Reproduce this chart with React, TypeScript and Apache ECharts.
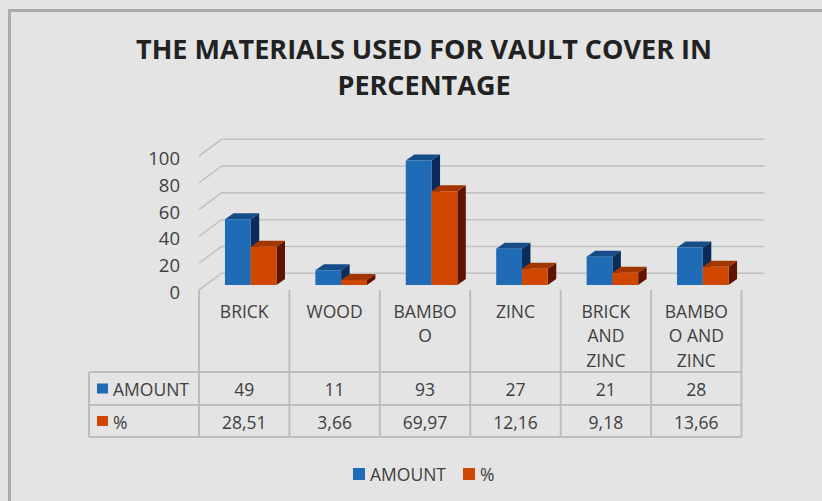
import React, { useEffect, useRef } from "react";
import * as echarts from "echarts";

const categories = ["BRICK", "WOOD", "BAMBOO", "ZINC", "BRICK AND ZINC", "BAMBOO AND ZINC"];
const categoryLabels = ["BRICK", "WOOD", "BAMBO\nO", "ZINC", "BRICK\nAND\nZINC", "BAMBO\nO AND\nZINC"];
const amountValues = [49, 11, 93, 27, 21, 28];
const percentValues = [28.51, 3.66, 69.97, 12.16, 9.18, 13.66];
const percentLabels = ["28,51", "3,66", "69,97", "12,16", "9,18", "13,66"];
const yTicks = [0, 20, 40, 60, 80, 100];
const seriesNames = ["AMOUNT", "%"];
const titleText = "THE MATERIALS USED FOR VAULT COVER IN\nPERCENTAGE";

const FONT = '"Open Sans", "Noto Sans", sans-serif';
const TEXT_COLOR = "#404040";
const GRID_COLOR = "#c2c2c2";
const TABLE_LINE = "#bdbdbd";

const BLUE = { front: "#1f6bb6", top: "#164c88", side: "#0b2c58" };
const ORANGE = { front: "#d04800", top: "#a33500", side: "#601400" };

const makeBarRender = (slot: number, colors: { front: string; top: string; side: string }) =>
  (params: any, api: any) => {
    const idx = api.value(0);
    const v = api.value(1);
    const base = api.coord([idx, 0]);
    const top = api.coord([idx, v]);
    const band = api.size([1, 0])[0];
    const w = band * 0.285;
    const x0 = base[0] - band * 0.213 + slot * w;
    const dx = 8.5;
    const dy = -6;
    const y0 = base[1];
    const y1 = top[1];
    return {
      type: "group",
      children: [
        {
          type: "polygon",
          shape: { points: [[x0 + w, y1], [x0 + w + dx, y1 + dy], [x0 + w + dx, y0 + dy], [x0 + w, y0]] },
          style: { fill: colors.side },
        },
        {
          type: "polygon",
          shape: { points: [[x0, y1], [x0 + dx, y1 + dy], [x0 + w + dx, y1 + dy], [x0 + w, y1]] },
          style: { fill: colors.top },
        },
        {
          type: "rect",
          shape: { x: x0, y: y1, width: w, height: y0 - y1 },
          style: { fill: colors.front },
        },
      ],
    };
  };

const gridRender = (params: any, api: any) => {
  const cs = params.coordSys;
  const y = api.coord([0, api.value(1)])[1];
  return {
    type: "polyline",
    shape: {
      points: [
        [cs.x, y + 5],
        [cs.x + 22.5, y - 11.7],
        [cs.x + cs.width + 23, y - 11.7],
      ],
    },
    style: { stroke: GRID_COLOR, lineWidth: 1.6, fill: "none" },
  };
};

const txt = (text: string, x: number, y: number, align: string = "center", size = 17.5) => ({
  type: "text",
  style: {
    text,
    x,
    y,
    align,
    verticalAlign: "middle",
    fill: TEXT_COLOR,
    fontSize: size,
    fontFamily: FONT,
  },
});

const ln = (x1: number, y1: number, x2: number, y2: number) => ({
  type: "line",
  shape: { x1, y1, x2, y2 },
  style: { stroke: TABLE_LINE, lineWidth: 2 },
});

const tableRender = (params: any, api: any) => {
  const i = api.value(0);
  const c = api.coord([i, 0]);
  const band = api.size([1, 0])[0];
  const left = c[0] - band / 2;
  const right = c[0] + band / 2;
  const yb = c[1];
  const r1 = yb + 87;
  const r2 = yb + 120;
  const r3 = yb + 152;
  const children: any[] = [
    ln(left, yb + 5, left, r3),
    ln(left, r1, right, r1),
    ln(left, r2, right, r2),
    ln(left, r3, right, r3),
    txt(String(amountValues[i]), c[0], (r1 + r2) / 2 + 0.5),
    txt(percentLabels[i], c[0], (r2 + r3) / 2 + 0.5),
  ];
  if (i === categories.length - 1) children.push(ln(right, yb + 5, right, r3));
  if (i === 0) {
    const hx = 89;
    children.push(ln(hx, r1, left, r1), ln(hx, r2, left, r2), ln(hx, r3, left, r3), ln(hx, r1, hx, r3));
    children.push({ type: "rect", shape: { x: 97, y: (r1 + r2) / 2 - 5, width: 11, height: 10 }, style: { fill: BLUE.front } });
    children.push({ type: "rect", shape: { x: 97, y: (r2 + r3) / 2 - 5, width: 11, height: 10 }, style: { fill: ORANGE.front } });
    children.push(txt(seriesNames[0], 113, (r1 + r2) / 2 + 0.5, "left"));
    children.push(txt(seriesNames[1], 113, (r2 + r3) / 2 + 0.5, "left"));
  }
  return { type: "group", children };
};

export default function App() {
  const ref = useRef<HTMLDivElement>(null);
  useEffect(() => {
    if (!ref.current) return;
    const chart = echarts.init(ref.current, undefined, { renderer: "svg" });
    chart.setOption({
      animation: false,
      backgroundColor: "#e4e4e4",
      textStyle: { fontFamily: FONT },
      title: {
        text: titleText,
        left: 419,
        top: 25,
        textAlign: "center",
        textStyle: { fontSize: 27, fontWeight: "bold", color: "#222222", lineHeight: 36, fontFamily: FONT },
      },
      legend: {
        data: seriesNames,
        left: 348,
        top: 460,
        icon: "rect",
        itemWidth: 12,
        itemHeight: 12,
        itemGap: 17,
        textStyle: { fontSize: 17.5, color: TEXT_COLOR, fontFamily: FONT },
      },
      graphic: [
        { type: "rect", shape: { x: 8, y: 9, width: 3, height: 492 }, style: { fill: "#ababab" }, z: 100 },
        { type: "rect", shape: { x: 8, y: 9, width: 814, height: 3 }, style: { fill: "#ababab" }, z: 100 },
      ],
      grid: { left: 199, right: 80.5, top: 151, bottom: 216, containLabel: false },
      xAxis: {
        type: "category",
        data: categoryLabels,
        axisLine: { show: false },
        axisTick: { show: false },
        axisLabel: {
          interval: 0,
          fontSize: 17.5,
          lineHeight: 24.5,
          margin: 13.5,
          verticalAlign: "top",
          color: TEXT_COLOR,
          fontFamily: FONT,
        },
      },
      yAxis: {
        type: "value",
        min: 0,
        max: 100,
        interval: 20,
        splitLine: { show: false },
        axisLine: { show: false },
        axisTick: { show: false },
        axisLabel: {
          fontSize: 18.5,
          color: TEXT_COLOR,
          margin: 19,
          verticalAlign: "top",
          lineHeight: 13,
          fontFamily: FONT,
        },
      },
      series: [
        {
          type: "custom",
          name: "grid3d",
          renderItem: gridRender,
          data: yTicks.map((v) => [0, v]),
          encode: { x: 0, y: 1 },
          silent: true,
          z: 1,
        },
        {
          type: "custom",
          name: seriesNames[0],
          renderItem: makeBarRender(0, BLUE),
          itemStyle: { color: BLUE.front },
          data: amountValues.map((v, i) => [i, v]),
          encode: { x: 0, y: 1 },
          z: 2,
        },
        {
          type: "custom",
          name: seriesNames[1],
          renderItem: makeBarRender(1, ORANGE),
          itemStyle: { color: ORANGE.front },
          data: percentValues.map((v, i) => [i, v]),
          encode: { x: 0, y: 1 },
          z: 3,
        },
        {
          type: "custom",
          name: "table",
          renderItem: tableRender,
          data: categories.map((c, i) => [i, 0]),
          encode: { x: 0, y: 1 },
          silent: true,
          z: 4,
        },
      ],
    });
    return () => chart.dispose();
  }, []);
  return <div ref={ref} style={{ position: "fixed", left: 0, top: 0, width: 822, height: 501 }} />;
}
